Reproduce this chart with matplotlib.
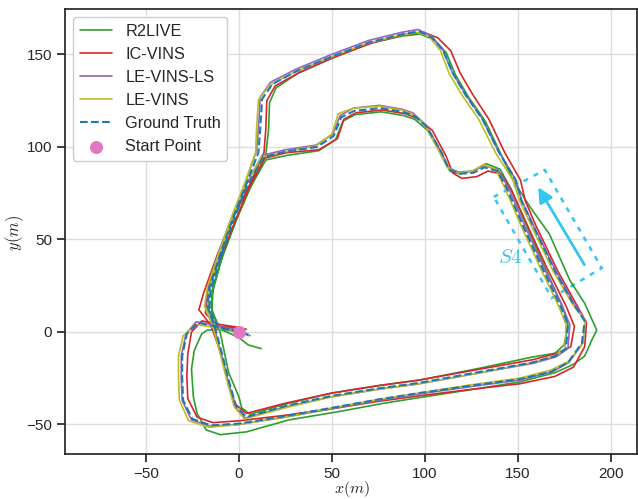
import matplotlib
matplotlib.use("Agg")
import matplotlib.pyplot as plt
import seaborn as sns
from matplotlib.patches import Polygon

sns.set_theme(style="ticks", context="notebook")
plt.rcParams['font.family'] = ['Liberation Sans', 'DejaVu Sans']
plt.rcParams['mathtext.fontset'] = 'cm'

# ---------------- data ----------------
gt_x = [0, -10, -22, -28, -30.5, -30.5, -30, -25, -15, 0,
        25, 50, 75, 97, 125, 151, 168, 177, 184.5, 186,
        180, 170, 158.5, 152, 149, 140, 131, 122, 115, 110,
        104, 97, 88, 70, 49, 31, 18, 12.5, 11.5, 10.5,
        4, -3, -10, -16, -17, -13, -9, -5, -1.5, 4,
        25, 50, 75, 97, 130, 158, 170, 176, 177, 173,
        163, 153, 144, 139, 132, 126, 118, 113, 109, 101,
        94, 88, 76, 62, 55, 51, 42, 25, 13, 4,
        -3, -10, -15, -16, -11, 0, 5]
gt_y = [0, 2.5, 5, -1, -13, -25, -37, -47, -50.5, -49.5,
        -45.5, -41, -36.5, -33, -29, -25.5, -21.5, -16.5, -6, 6,
        15, 33, 57, 71, 82, 97, 115, 128, 140, 152,
        159, 162.5, 161, 156.5, 148.5, 141, 134, 126, 110, 97,
        80, 62, 42, 24, 14, 3, -12, -28, -40, -46,
        -40, -34.5, -30.5, -27.5, -21.5, -16.5, -13, -9, 4, 14,
        35, 57, 78, 87, 89, 86, 85.5, 88, 97, 111,
        117, 119, 121, 119.5, 116, 106, 100, 97.5, 94.5, 78,
        60, 40, 23, 12, 2, 0.5, -1.5]

ls_x = [0, -10, -23, -28.5, -31, -31, -30.5, -25.5, -15.5, 0,
        25, 50, 75, 97, 125, 151, 168.5, 177.5, 185, 186.5,
        180.5, 170.5, 158.5, 152, 148.5, 139.5, 130.5, 121.5, 114.5, 109.5,
        103.5, 96.5, 87.5, 69.5, 48.5, 30.5, 17, 11.5, 10.5, 9.5,
        3.5, -3.5, -11, -16.5, -18, -13.5, -9.5, -5.5, -2, 3.5,
        25, 50, 75, 97, 130, 158, 170.5, 177, 178, 174,
        164, 154, 145, 139.5, 132, 126, 118, 112.5, 108.5, 100.5,
        93.5, 87.5, 75.5, 61.5, 54.5, 50.5, 41.5, 25, 12.5, 3.5,
        -3.5, -10.5, -15.5, -17, -11, 0, 6]
ls_y = [0.5, 3, 5.5, -1, -13, -25, -37, -47.5, -51, -50,
        -46, -41.5, -37, -33.5, -29.5, -26, -21.5, -16.5, -6, 6,
        15, 33, 57.5, 71.5, 83, 98, 116, 129, 141, 153,
        160, 163.5, 162, 157.5, 149.5, 142, 135, 127, 110, 98,
        81, 63, 43, 24.5, 14, 3.5, -12, -28, -40.5, -46.5,
        -40.5, -35, -31, -28, -22, -17, -13.5, -9, 4, 14,
        35, 57, 78, 87.5, 90, 87, 86.5, 89, 98, 112,
        118.5, 120.5, 122.5, 121, 117, 107, 101, 98.5, 95.5, 79,
        61, 41, 23.5, 12, 2.5, 1, -2]

le_x = [0, -10, -23, -30, -32.5, -32.5, -32, -27, -16, 0,
        25, 50, 75, 97, 125, 151, 168, 178, 185, 186.5,
        179.5, 169, 157.5, 151, 147.5, 138, 129, 120, 113, 108.5,
        102.5, 96, 87, 69, 48, 30, 16.5, 10.5, 9.5, 9,
        3, -4, -11, -17, -18.5, -14, -10, -6, -2.5, 3,
        25, 50, 75, 97, 130, 158, 169.5, 175.5, 176, 172,
        162, 152, 143, 138, 131.5, 125.5, 117.5, 112, 107.5, 100,
        93, 87.5, 75.5, 61.5, 53.5, 50, 41.5, 25, 12, 3,
        -4, -11, -16, -17, -11.5, 0, 5]
le_y = [0, 2, 4, -2, -13, -25, -37, -48, -51.5, -50,
        -46, -41, -36.5, -33, -28.5, -25, -20.5, -15.5, -6, 6,
        15, 33, 57, 71, 82, 97, 115, 128, 140, 152,
        159.5, 162, 160.5, 156, 148, 140.5, 133.5, 125.5, 110, 97,
        80, 62, 42, 24, 14, 3, -12, -28, -40.5, -47,
        -41, -35, -31, -28, -22, -16.5, -13, -9, 4, 14,
        35, 57, 78, 88, 90.5, 87, 86, 89, 98, 112,
        118, 120, 122, 121, 118, 107, 100.5, 97.5, 94.5, 78,
        60, 40, 23, 12, 2, 0, -2]

ic_x = [0, -10, -20, -25.5, -27.5, -28, -27.5, -22.5, -14, 0,
        25, 50, 75, 97, 125, 151, 170, 180, 186, 187,
        181.5, 171.5, 160, 154, 151.5, 143, 134.5, 126, 119, 114,
        107, 99.5, 90, 71, 50, 32, 19.5, 15, 14.5, 13.5,
        6, -3, -11.5, -19, -21.5, -15, -9.5, -5.5, -2, 4,
        25, 50, 75, 97, 130, 158, 171, 178.5, 180.5, 176,
        165.5, 155.5, 146.5, 141, 134, 128, 120, 115, 111.5, 104,
        96, 89.5, 77, 63, 56.5, 53, 43, 26, 14, 5.5,
        -2, -10, -17, -18, -11, 0, 4]
ic_y = [2.5, 4, 6, 0, -12, -24, -36, -46, -49, -48,
        -45, -41.5, -37.5, -34.5, -31, -28, -24, -19, -8, 5,
        15, 33, 57, 71, 82, 97, 115, 128, 140, 152,
        159, 162, 161, 156, 148, 140, 133, 125, 110, 97,
        80, 62, 42, 21, 12, 3.5, -12, -28, -39, -44,
        -38.5, -33, -29, -26, -20, -15, -11.5, -8, 3, 14,
        35, 57, 77, 85.5, 87, 84, 83, 86, 95, 109,
        115.5, 118, 120, 118.5, 115, 104.5, 98.5, 97, 94, 78,
        60, 40, 22, 10, 3, 2, 1.5]

r2_x = [0, -10, -17, -20, -24, -25.5, -24.5, -22.5, -17.5, -10,
        4, 27, 54, 78, 100, 126, 151, 170, 180, 186,
        190, 192.5, 186, 178, 167, 157, 147.5, 141, 132.5, 123.5,
        116.5, 111.5, 105, 97.5, 88, 70, 50, 32, 20, 16.5,
        16, 14.5, 7, -1, -8.5, -14, -15, -10, -5.5, 0,
        1.5, 6, 25, 50, 75, 97, 130, 158, 170, 175,
        177, 174, 164.5, 155, 146, 140.5, 133, 126, 118.5, 113.5,
        109.5, 101.5, 94.5, 88.5, 76.5, 62.5, 56, 52, 43, 26,
        14.5, 5.5, -2, -9.5, -14, -14.5, -10, 0, 5, 12]
r2_y = [0, 1.5, 1, -1, -10, -20, -35, -44, -53, -55.5,
        -54, -47.5, -43, -38.5, -35, -31, -27, -22, -17.5, -13,
        -4, 1, 15.5, 28, 53, 67, 82, 96, 114, 127,
        139, 151, 158, 161, 160, 156, 148, 140, 132, 124,
        110, 96, 80, 62, 42, 24, 13.5, -0.5, -22, -35,
        -41, -44.5, -39, -33, -29, -26, -19.5, -13.5, -11.5, -7,
        4, 14, 35, 57, 78, 88, 91, 87, 85.5, 87,
        95, 109, 115, 117, 119, 117.5, 114, 104, 98, 95.5,
        93, 77, 59, 39, 22, 11, 1.5, -3, -7, -9]

start_x = [0]
start_y = [0]

# annotation (segment S4)
box_x = [137.1, 164.5, 195.2, 168.3]
box_y = [73.0, 87.6, 34.6, 18.4]
arrow_tail = (186.6, 35.1)
arrow_head = (160.2, 79.5)
label_pos = (146.0, 40.5)

# ---------------- plot ----------------
fig = plt.figure(figsize=(6.38, 4.99), dpi=100)
ax = fig.add_axes([0.102, 0.090, 0.896, 0.892])

ax.plot(r2_x, r2_y, color='#2ca02c', lw=1.2, label='R2LIVE')
ax.plot(ic_x, ic_y, color='#d62728', lw=1.2, label='IC-VINS')
ax.plot(ls_x, ls_y, color='#9467bd', lw=1.2, label='LE-VINS-LS')
ax.plot(le_x, le_y, color='#bcbd22', lw=1.2, label='LE-VINS')
ax.plot(gt_x, gt_y, color='#1f77b4', lw=1.5, ls='--', label='Ground Truth')
ax.scatter(start_x, start_y, color='#e377c2', s=70, zorder=5, label='Start Point')

cy = '#33c6f0'
ax.add_patch(Polygon(list(zip(box_x, box_y)), closed=True, fill=False,
                     edgecolor=cy, lw=1.8, ls=(0, (2, 2.5))))
ax.annotate('', xy=arrow_head, xytext=arrow_tail,
            arrowprops=dict(arrowstyle='-|>', color=cy, lw=2, mutation_scale=22))
ax.text(label_pos[0], label_pos[1], r'$\mathit{S4}$', color=cy, fontsize=15,
        ha='center', va='center')

ax.set_xlim(-93.5, 214)
ax.set_ylim(-66, 174.6)
ax.set_xticks([-50, 0, 50, 100, 150, 200])
ax.set_yticks([-50, 0, 50, 100, 150])
ax.tick_params(labelsize=11)
ax.grid(True, color='#dddddd', lw=1)
ax.set_axisbelow(True)
ax.set_xlabel(r'$x(m)$', fontsize=11.5)
ax.set_ylabel(r'$y(m)$', fontsize=12)
ax.xaxis.set_label_coords(0.502, -0.056)
ax.yaxis.set_label_coords(-0.068, 0.497)
ax.legend(loc='upper left', fontsize=11.7, framealpha=1)

fig.savefig('out.png', dpi=100)
